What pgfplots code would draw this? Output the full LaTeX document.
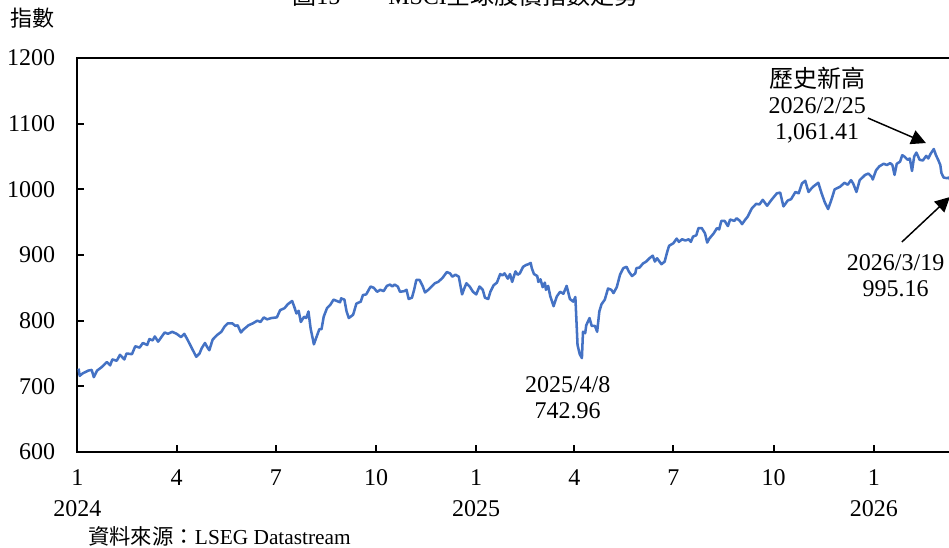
\documentclass[border=0pt]{standalone}
\usepackage{fontspec}
\setmainfont{Liberation Serif}
\newfontfamily\cjk{Noto Sans CJK TC}
\usepackage{pgfplots}
\pgfplotsset{compat=1.18}
\usetikzlibrary{arrows.meta}
\definecolor{lineblue}{RGB}{68,114,196}

\begin{document}
\begin{tikzpicture}[note/.style={align=center, font=\fontsize{18}{19.5}\selectfont}]
\begin{axis}[
  at={(0,0)}, anchor=south west,
  scale only axis,
  width=665.9pt, height=295.5pt,
  xmin=0, xmax=815,
  ymin=600, ymax=1200,
  ytick={600,700,...,1200},
  xtick={0,91,182,274,366,456,547,639,731},
  xticklabels={{1\\2024},4,7,10,{1\\2025},4,7,10,{1\\2026}},
  tick pos=left,
  tick align=inside,
  major tick length=5pt,
  axis line style={line width=1.5pt},
  every tick/.style={black, line width=1.5pt},
  /pgf/number format/assume math mode=true,
  /pgf/number format/1000 sep={},
  tick label style={font=\fontsize{18}{23.25}\selectfont},
  xticklabel style={align=center, anchor=north, inner sep=0pt, yshift=-13pt},
  yticklabel style={anchor=east, inner sep=0pt, xshift=-16.5pt},
]
% MSCI world index, x = days since 2024-01-01
\addplot[color=lineblue, line width=1.9pt, line join=round, mark=none] coordinates {
(1,727) (2,716) (5,720) (10,724) (13,725) (15,714) (18,724) (22,729) (27,737) (30,732)
(32,741) (36,739) (39,748) (43,741) (45,750) (50,749) (53,761) (57,759) (60,766) (64,763)
(66,772) (69,770) (71,776) (74,768) (80,782) (83,780) (87,783) (91,780) (95,775) (98,780)
(101,771) (105,758) (109,745) (112,750) (114,758) (117,766) (119,760) (121,755) (124,771) (128,778)
(132,783) (135,791) (138,796) (142,796) (145,792) (147,793) (150,782) (152,786) (157,793) (161,796)
(165,800) (168,798) (171,805) (174,802) (178,804) (183,805) (186,816) (190,819) (193,825) (197,830)
(199,821) (201,811) (203,815) (205,798) (208,806) (210,804) (212,814) (214,788) (217,764) (220,778)
(222,787) (224,787) (226,806) (229,819) (232,824) (235,832) (238,830) (241,828) (242,834) (245,832)
(247,814) (249,804) (253,809) (256,826) (260,829) (262,839) (265,840) (269,852) (272,850) (275,844)
(278,847) (281,845) (284,853) (287,855) (289,852) (291,855) (294,852) (296,844) (300,845) (302,847)
(304,833) (307,835) (309,847) (311,862) (314,862) (317,852) (319,843) (322,847) (325,852) (328,857)
(331,859) (335,865) (339,874) (342,872) (344,867) (347,870) (350,867) (353,840) (355,849) (357,857)
(360,852) (363,844) (366,840) (369,852) (372,847) (374,835) (377,833) (379,844) (382,854) (385,858)
(388,871) (390,869) (392,872) (395,864) (397,871) (399,859) (402,875) (404,870) (406,872) (409,882)
(412,885) (414,886) (416,888) (417,880) (419,871) (422,868) (423,859) (425,863) (427,851) (429,858)
(430,847) (432,853) (434,837) (437,822) (440,837) (443,844) (446,841) (449,853) (452,833) (455,829)
(457,836) (459,763) (461,749) (463,742.96) (464,783) (466,781) (467,793) (470,804) (472,792) (475,792)
(477,783) (479,814) (481,825) (484,832) (487,849) (490,847) (492,842) (495,851) (498,870) (501,880)
(504,882) (506,875) (509,868) (512,872) (513,880) (516,881) (519,887) (522,890) (525,895) (528,899)
(530,890) (532,895) (536,886) (539,890) (541,903) (543,914) (547,918) (550,925) (552,920) (555,924)
(558,922) (561,924) (563,920) (565,928) (568,930) (570,941) (573,941) (576,933) (578,919) (580,925)
(584,933) (587,941) (589,939) (591,952) (594,952) (597,944) (599,954) (603,952) (605,956) (608,952)
(610,947) (613,954) (615,958) (619,971) (623,978) (626,977) (629,984) (633,975) (637,984) (642,994)
(645,995) (648,974) (652,983) (655,985) (659,996) (662,994) (665,1009) (668,1013) (671,996) (674,1002)
(676,1005) (680,1010) (683,994) (686,980) (689,970) (692,984) (695,1000) (700,1004) (704,1010) (707,1007)
(710,1014) (712,1009) (715,996) (718,1014) (723,1022) (726,1024) (729,1019) (730,1015) (733,1029) (736,1035)
(740,1039) (743,1037) (746,1040) (748,1037) (750,1022) (752,1039) (755,1042) (757,1052) (759,1050) (762,1045)
(764,1047) (766,1028) (768,1050) (770,1056) (773,1045) (776,1044) (779,1051) (781,1047) (783,1054) (786,1061.41)
(788,1052) (790,1045) (792,1037) (793,1025) (795,1018) (798,1017) (800,1018) (803,1008) (805,1002) (808,995.16)
};

\node[note] at (axis cs:450,682) {2025/4/8\\742.96};
\node[note] at (axis cs:679,1128) {{\cjk 歷史新高}\\2026/2/25\\1,061.41};
\node[note] at (axis cs:751,868) {2026/3/19\\995.16};
\draw[line width=1.1pt, -{Triangle[length=11pt,width=11pt]}]
  (axis cs:725.5,1108.6) -- (axis cs:778.8,1070.5);
\draw[line width=1.1pt, -{Triangle[length=11pt,width=11pt]}]
  (axis cs:756.7,919.8) -- (axis cs:800.8,988.3);
\end{axis}

\node[font=\cjk\fontsize{16.5}{18}\selectfont] at (-34.1pt,325.5pt) {指數};
\node[anchor=base west, inner sep=0pt, font=\fontsize{18}{20}\selectfont]
  at (160.9pt,335.25pt) {{\cjk 圖}15\hspace{36pt}MSCI{\cjk 全球股價指數走勢}};
\node[anchor=west, inner sep=0pt, font=\fontsize{16}{18}\selectfont]
  at (7.9pt,-63pt) {{\cjk 資料來源：}LSEG Datastream};

\pgfresetboundingbox
\useasboundingbox (-58.125pt,-71.25pt) rectangle (653.625pt,339pt);
\end{tikzpicture}
\end{document}
